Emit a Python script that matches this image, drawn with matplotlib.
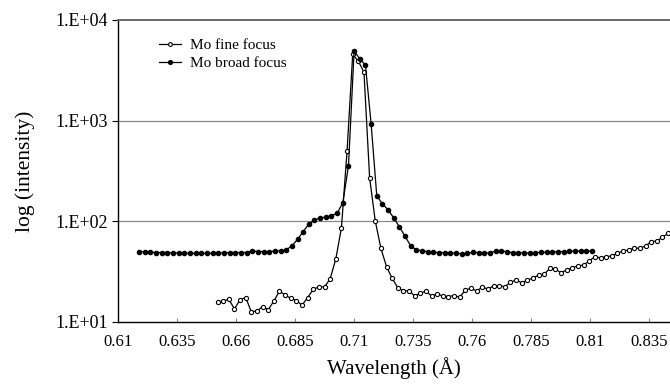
import numpy as np
import matplotlib
matplotlib.use('Agg')
import matplotlib.pyplot as plt

plt.rcParams['font.family'] = ['Liberation Serif', 'DejaVu Serif']

# wavelength grids (Å), evenly sampled
fine_wl = np.linspace(0.6522, 0.8432, 81)
broad_wl = np.linspace(0.6189, 0.8109, 81)

fine_int = [15.8, 16.1, 16.8, 13.5, 16.6, 17.5, 12.6, 12.9, 14.2, 13.3,
            16.1, 20.3, 18.5, 17.2, 16.3, 14.7, 17.5, 21.1, 22.3, 22.3,
            26.9, 42.3, 86.5, 500, 4560, 3900, 3020, 271, 101, 54,
            35.5, 27.2, 21.9, 20.3, 20.5, 18.1, 19.3, 20.3, 18.1, 19.0,
            18.1, 17.9, 18.3, 17.6, 20.8, 21.6, 20.3, 22.2, 21.2, 22.8,
            23.0, 22.4, 24.8, 26.1, 24.5, 26.1, 27.2, 29.3, 29.8, 34.1,
            33.3, 30.9, 32.9, 34.7, 36.0, 36.8, 40.4, 44.6, 43.3, 44.6,
            45.3, 48.1, 50.7, 51.9, 54.0, 54.0, 56.9, 62.8, 63.8, 69.3,
            76.0]

broad_int = [50, 50, 49.5, 49, 49, 49, 48.5, 48.5, 48.5, 48,
             48, 48, 48, 48, 48.5, 48.5, 49, 49, 49, 49,
             51, 50, 50, 50, 50.5, 51, 52, 57, 66, 79,
             94, 103, 108, 110, 114, 120, 153, 355, 4950, 4100,
             3570, 930, 179, 149, 130, 108, 88, 71, 57, 52,
             51, 49.9, 49.4, 48.8, 48.8, 48.2, 48.2, 47.6, 48.2, 49.4,
             48.8, 48.8, 48.2, 51, 50.7, 49.9, 48.8, 48.8, 48.8, 48.2,
             48.8, 49.4, 49.2, 49.6, 50, 49.9, 50.2, 50.7, 50.7, 50.7,
             50.7]

x_ticks = [0.61, 0.635, 0.66, 0.685, 0.71, 0.735, 0.76, 0.785, 0.81, 0.835]
y_ticks = [1e1, 1e2, 1e3, 1e4]
y_labels = ['1.E+01', '1.E+02', '1.E+03', '1.E+04']

fig = plt.figure(figsize=(6.7, 3.84), dpi=100)
ax = fig.add_axes([0.1761, 0.1615, 0.8239, 0.7865])

ax.plot(fine_wl, fine_int, '-o', color='black', lw=0.9, ms=3.0,
        mfc='white', mec='black', mew=0.8, label='Mo fine focus', zorder=3)
ax.plot(broad_wl, broad_int, '-o', color='black', lw=0.9, ms=3.0,
        mfc='black', mec='black', label='Mo broad focus', zorder=3)

ax.set_yscale('log')
ax.set_ylim(1e1, 1e4)
ax.set_xlim(0.61, 0.844)
ax.set_yticks(y_ticks)
ax.set_yticklabels(y_labels)
ax.yaxis.set_minor_locator(matplotlib.ticker.NullLocator())
ax.set_xticks(x_ticks)
ax.set_xticklabels([str(t) for t in x_ticks])

for y in y_ticks[1:3]:
    ax.axhline(y, color='#8a8a8a', lw=0.9, zorder=1)

ax.spines['right'].set_visible(False)
ax.spines['top'].set_color('#666666')
ax.spines['top'].set_linewidth(1.4)
ax.spines['left'].set_linewidth(1.0)
ax.spines['bottom'].set_linewidth(1.0)

ax.tick_params(axis='y', direction='out', length=4, width=0.8, pad=3, labelsize=13)
ax.tick_params(axis='x', direction='in', length=3, width=0.8, color='#888888',
               pad=9, labelsize=12)

ax.set_xlabel('Wavelength (Å)', fontsize=15, labelpad=5)
ax.set_ylabel('log (intensity)', fontsize=15.5, labelpad=15)

ax.legend(loc='upper left', bbox_to_anchor=(0.05, 0.985), frameon=False,
          fontsize=11, handlelength=1.4, handletextpad=0.6, labelspacing=0.3,
          markerscale=0.9)

fig.savefig('out.png', dpi=100)
